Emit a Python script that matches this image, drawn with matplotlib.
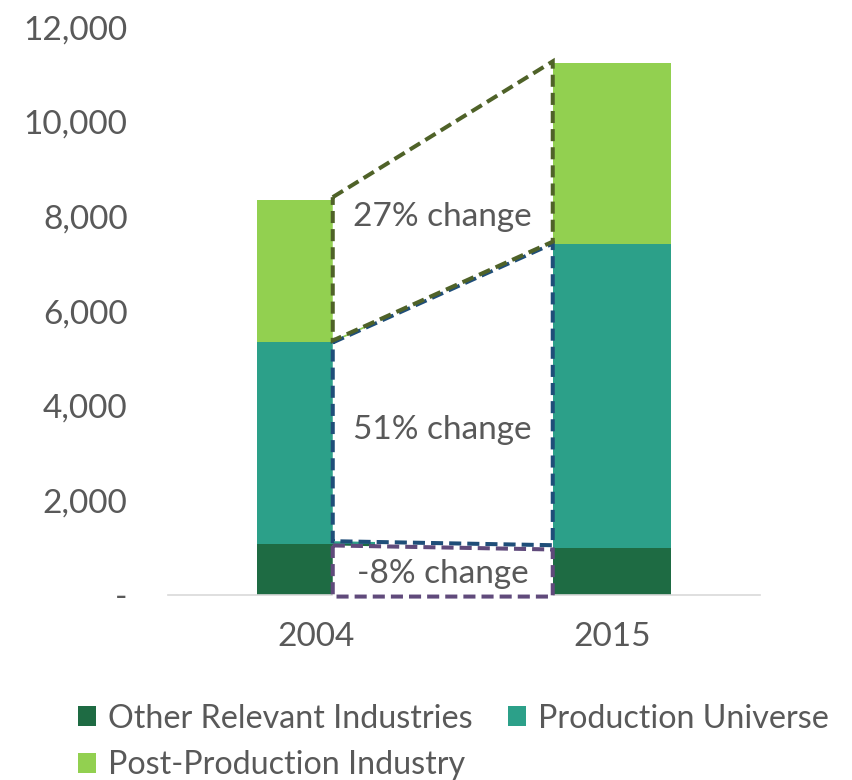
import matplotlib.pyplot as plt
from matplotlib.patches import Patch
from matplotlib.ticker import FuncFormatter

years = ['2004', '2015']
other = [1080, 995]
production = [4260, 6435]
post = [3010, 3810]
series_names = ['Other Relevant Industries', 'Production Universe', 'Post-Production Industry']
colors = ['#1E6B43', '#2CA089', '#92D050']
changes = ['-8% change', '51% change', '27% change']

plt.rcParams['font.family'] = ['Lato', 'DejaVu Sans']
txt = '#595959'

fig = plt.figure(figsize=(8.52, 7.8), dpi=100)
ax = fig.add_axes([0.197, 0.237, 0.695, 0.728])

x = [0, 1]
w = 0.4
b1 = [o + p for o, p in zip(other, production)]
tops = [b + q for b, q in zip(b1, post)]
ax.bar(x, other, w, color=colors[0], zorder=2)
ax.bar(x, production, w, bottom=other, color=colors[1], zorder=2)
ax.bar(x, post, w, bottom=b1, color=colors[2], zorder=2)

# change boxes between the bars
xl, xr = 0.057, 1 - w / 2
dash = (0, (3, 1.5))
boxes = [
    ([xl, xr, xr, xl], [b1[0], b1[1], other[1] + 60, other[0] + 60], '#1F4E79'),
    ([xl, xr, xr, xl], [tops[0] + 60, tops[1] + 40, b1[1] + 40, b1[0] + 40], '#4F6228'),
    ([xl, xr, xr, xl], [other[0] - 30, other[1] - 30, -30, -30], '#604A7B'),
]
for bx, by, c in boxes:
    ax.fill(bx, by, facecolor='white', edgecolor=c, linewidth=2.9,
            linestyle=dash, zorder=3, clip_on=False, joinstyle='miter')

mid = (xl + xr) / 2
ax.text(mid, 440, changes[0], ha='center', va='center', fontsize=24, color=txt, zorder=4)
ax.text(mid, 3500, changes[1], ha='center', va='center', fontsize=24, color=txt, zorder=4)
ax.text(mid, 8000, changes[2], ha='center', va='center', fontsize=24, color=txt, zorder=4)

ax.set_xlim(-0.5, 1.5)
ax.set_ylim(0, 12000)
ax.set_xticks(x)
ax.set_xticklabels(years)
ax.set_yticks(range(0, 12001, 2000))
ax.yaxis.set_major_formatter(FuncFormatter(lambda v, p: '-' if v == 0 else f'{int(v):,}'))
ax.tick_params(length=0, labelsize=24, colors=txt)
ax.tick_params(axis='x', pad=19)
ax.tick_params(axis='y', pad=29)
for s in ['top', 'right', 'left']:
    ax.spines[s].set_visible(False)
ax.spines['bottom'].set_color('#D9D9D9')
ax.spines['bottom'].set_linewidth(1.2)

# column-major fill: Other, Post in col 1; Production in col 2
order = [0, 2, 1]
handles = [Patch(facecolor=colors[i]) for i in order]
labels = [series_names[i] for i in order]
fig.legend(handles, labels, loc='upper left', bbox_to_anchor=(0.0915, 0.098),
           ncol=2, frameon=False, fontsize=23.2, labelcolor=txt,
           handlelength=0.56, handleheight=0.56, handletextpad=0.37,
           columnspacing=1.1, labelspacing=0.52, borderpad=0, borderaxespad=0)

fig.savefig('out.png', dpi=100)
